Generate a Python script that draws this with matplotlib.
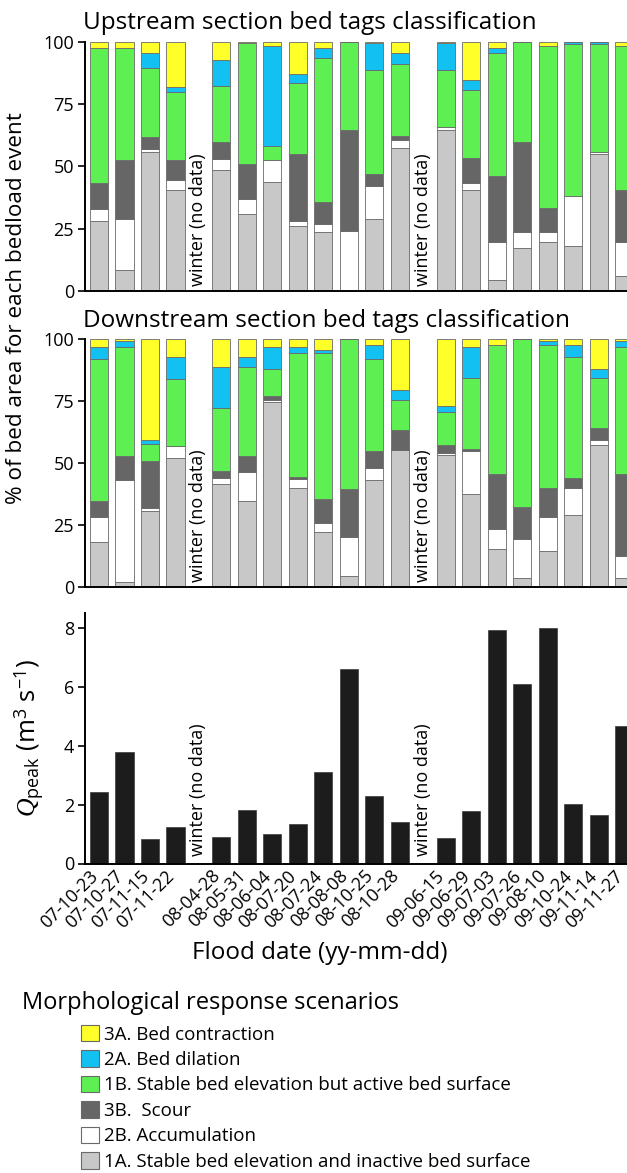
import numpy as np
import matplotlib.pyplot as plt
import matplotlib.transforms as mtransforms
from matplotlib.patches import Patch

plt.rcParams['font.family'] = ['Open Sans', 'DejaVu Sans']
plt.rcParams['mathtext.fontset'] = 'custom'
plt.rcParams['mathtext.rm'] = 'Open Sans'
plt.rcParams['mathtext.it'] = 'Liberation Serif:italic'
plt.rcParams['mathtext.fallback'] = 'stixsans'

# Flood events (yy-mm-dd); winter breaks after 07-11-22 and 08-10-28
dates = ['07-10-23', '07-10-27', '07-11-15', '07-11-22',
         '08-04-28', '08-05-31', '08-06-04', '08-07-20', '08-07-24',
         '08-08-08', '08-10-25', '08-10-28',
         '09-06-15', '09-06-29', '09-07-03', '09-07-26', '09-08-10',
         '09-10-24', '09-11-14', '09-11-27']
winter_after = ['07-11-22', '08-10-28']

# Upstream section: % of bed area per scenario
up_1A = [28.2, 8.3, 55.8, 40.3, 48.4, 30.9, 43.7, 25.9, 23.5, 0.0,
         28.9, 57.4, 64.5, 40.6, 4.3, 17.1, 19.5, 17.9, 54.8, 5.8]
up_2B = [4.7, 20.6, 1.3, 4.1, 4.7, 6.1, 8.7, 2.1, 3.4, 24.2,
         13.2, 3.1, 1.4, 2.8, 15.1, 6.4, 4.0, 20.0, 0.9, 13.6]
up_3B = [10.5, 23.5, 4.7, 8.0, 6.7, 13.8, 0.0, 26.8, 8.7, 40.6,
         4.7, 1.6, 0.0, 10.0, 26.7, 36.3, 9.8, 0.0, 0.0, 20.9]
up_1B = [54.0, 45.0, 27.6, 27.3, 22.5, 48.9, 5.7, 28.9, 57.8, 35.2,
         41.9, 28.9, 22.8, 27.2, 49.6, 40.2, 65.1, 61.1, 43.3, 58.1]
up_2A = [0.0, 0.0, 6.3, 2.3, 10.4, 0.0, 40.3, 3.4, 4.0, 0.0,
         11.0, 4.7, 11.0, 4.1, 1.7, 0.0, 0.0, 1.0, 1.0, 0.0]
up_3A = [2.6, 2.6, 4.3, 18.0, 7.3, 0.3, 1.6, 12.9, 2.6, 0.0,
         0.3, 4.3, 0.3, 15.3, 2.6, 0.0, 1.6, 0.0, 0.0, 1.6]

# Downstream section: % of bed area per scenario
dn_1A = [18.0, 2.1, 30.7, 52.1, 41.7, 34.7, 74.4, 40.1, 22.0, 4.4,
         43.3, 55.3, 53.1, 37.7, 15.5, 3.5, 14.7, 29.1, 57.1, 3.7]
dn_2B = [10.1, 41.2, 1.3, 4.7, 2.4, 11.7, 0.9, 3.6, 3.7, 15.7,
         4.7, 0.0, 0.9, 17.0, 7.8, 16.0, 13.4, 10.9, 2.0, 8.7]
dn_3B = [6.6, 9.6, 18.7, 0.0, 2.6, 6.5, 1.8, 0.7, 9.8, 19.4,
         6.7, 8.0, 3.1, 0.8, 22.4, 12.6, 12.0, 4.1, 5.0, 33.3]
dn_1B = [57.4, 43.9, 7.0, 27.2, 25.4, 35.9, 11.0, 50.0, 58.9, 60.5,
         37.4, 12.0, 13.3, 28.6, 52.0, 67.9, 57.6, 48.7, 20.0, 51.1]
dn_2A = [4.6, 2.5, 1.6, 8.8, 16.7, 4.0, 8.7, 2.3, 1.1, 0.0,
         5.6, 4.0, 2.7, 12.7, 0.0, 0.0, 1.4, 4.9, 4.0, 2.3]
dn_3A = [3.3, 0.7, 40.7, 7.2, 11.2, 7.2, 3.2, 3.3, 4.5, 0.0,
         2.3, 20.7, 26.9, 3.2, 2.3, 0.0, 0.9, 2.3, 11.9, 0.9]

# Peak discharge (m3/s)
q_peak = [2.44, 3.78, 0.82, 1.23, 0.90, 1.82, 0.99, 1.33, 3.10, 6.61,
          2.30, 1.40, 0.88, 1.78, 7.91, 6.10, 7.99, 2.03, 1.66, 4.65]

scenarios = ['3A. Bed contraction', '2A. Bed dilation',
             '1B. Stable bed elevation but active bed surface',
             '3B.  Scour', '2B. Accumulation',
             '1A. Stable bed elevation and inactive bed surface']
colors = {'1A': '#c8c8c8', '2B': '#ffffff', '3B': '#666666',
          '1B': '#5ef052', '2A': '#12c0f2', '3A': '#ffff2a'}
order = ['1A', '2B', '3B', '1B', '2A', '3A']

up = dict(zip(order, [up_1A, up_2B, up_3B, up_1B, up_2A, up_3A]))
dn = dict(zip(order, [dn_1A, dn_2B, dn_3B, dn_1B, dn_2A, dn_3A]))

# x positions, with a shortened slot left for each winter break
gap = 0.8
x = []
shift = 0.0
for i, d in enumerate(dates):
    x.append(i + shift)
    if d in winter_after:
        shift += gap
x = np.array(x)
winter_x = [x[dates.index(d)] + (1 + gap) / 2 for d in winter_after]
bw = 0.71

W, H = 627, 1173
fig = plt.figure(figsize=(W / 100, H / 100), dpi=100)


def add_ax(left, top, right, bottom):
    return fig.add_axes([left / W, 1 - bottom / H, (right - left) / W, (bottom - top) / H])


def style(ax, ymax, yticks):
    ax.set_xlim(-0.55, 20.71)
    ax.set_ylim(0, ymax)
    ax.set_yticks(yticks)
    for s in ['top', 'right']:
        ax.spines[s].set_visible(False)
    for s in ['left', 'bottom']:
        ax.spines[s].set_linewidth(1.4)
    ax.tick_params(axis='y', length=5, width=1.2, labelsize=13, pad=3)
    ax.tick_params(axis='x', length=0)


def stacked(ax, data):
    cum = np.zeros(len(x))
    for k in order:
        v = np.array(data[k])
        ax.bar(x, v, bottom=cum, width=bw, color=colors[k],
               edgecolor='#6a6a6a', linewidth=0.6)
        cum += v
    for wx in winter_x:
        ax.text(wx, 2, 'winter (no data)', rotation=90, ha='center', va='bottom', fontsize=13)
    style(ax, 100, [0, 25, 50, 75, 100])
    ax.set_xticks([])


ax1 = add_ax(85, 42, 627, 290.7)
stacked(ax1, up)
fig.text(83 / W, 1 - 29 / H, 'Upstream section bed tags classification',
         fontsize=17.5, ha='left', va='baseline')

ax2 = add_ax(85, 339, 627, 587)
stacked(ax2, dn)
fig.text(83 / W, 1 - 327 / H, 'Downstream section bed tags classification',
         fontsize=17.5, ha='left', va='baseline')

fig.text(17 / W, 1 - 308 / H, '% of bed area for each bedload event',
         rotation=90, fontsize=16.2, ha='center', va='center')

ax3 = add_ax(85, 613, 627, 863.5)
ax3.bar(x, q_peak, width=bw, color='#1c1c1c', edgecolor='#3a3a3a', linewidth=0.5)
for wx in winter_x:
    ax3.text(wx, 0.25, 'winter (no data)', rotation=90, ha='center', va='bottom', fontsize=13)
style(ax3, 8.5, [0, 2, 4, 6, 8])
ax3.set_xticks(x)
ax3.set_xticklabels(dates, rotation=45, ha='right', va='center',
                    rotation_mode='anchor', fontsize=13)
ax3.tick_params(axis='x', pad=7)
shift_left = mtransforms.ScaledTranslation(-4 / 100, 0, fig.dpi_scale_trans)
for lbl in ax3.get_xticklabels():
    lbl.set_transform(lbl.get_transform() + shift_left)
fig.text(29 / W, 1 - 738 / H, r'$Q_{\rm peak}$ (m$^{3}$ s$^{-1}$)',
         rotation=90, fontsize=18.5, ha='center', va='center')
fig.text(320 / W, 1 - 953 / H, 'Flood date (yy-mm-dd)', fontsize=17.5,
         ha='center', va='center')

# scenario legend
fig.text(22 / W, 1 - 1003 / H, 'Morphological response scenarios',
         fontsize=17, ha='left', va='center')
handles = [Patch(facecolor=colors[k], edgecolor='#6a6a6a', linewidth=0.8)
           for k in ['3A', '2A', '1B', '3B', '2B', '1A']]
fig.legend(handles, scenarios, loc='upper left', bbox_to_anchor=(81 / W, 1 - 1025 / H),
           frameon=False, fontsize=13.5, handlelength=0.95, handleheight=0.95,
           handletextpad=0.3, labelspacing=0.37, borderpad=0, borderaxespad=0)

fig.savefig('out.png', dpi=100)
